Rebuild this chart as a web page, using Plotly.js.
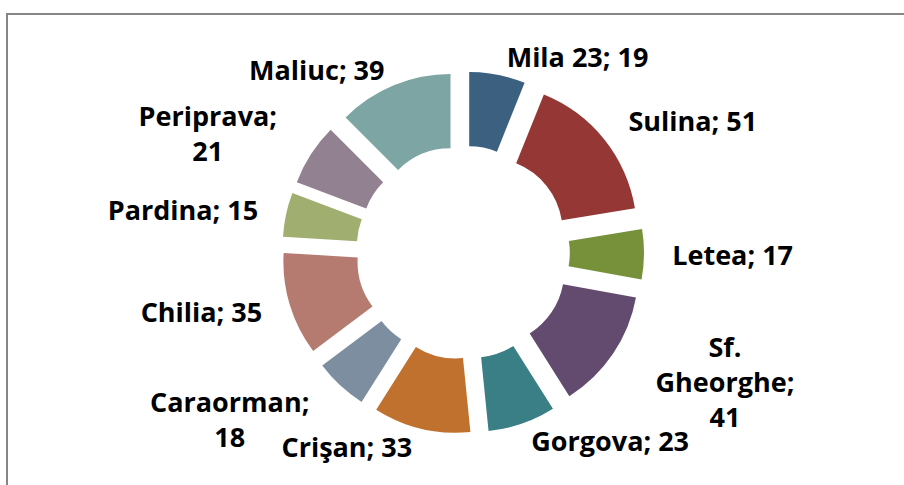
<!DOCTYPE html>
<html>
<head>
<meta charset="utf-8">
<script src="https://cdn.plot.ly/plotly-3.0.1.min.js"></script>
<style>html,body{margin:0;padding:0;background:#fff;}#chart{width:904px;height:485px;}</style>
</head>
<body>
<div id="chart"></div>
<script>
const categories = ["Mila 23", "Sulina", "Letea", "Sf. Gheorghe", "Gorgova", "Crişan", "Caraorman", "Chilia", "Pardina", "Periprava", "Maliuc"];
const values = [19, 51, 17, 41, 23, 33, 18, 35, 15, 21, 39];
const colors = ["#3c6080", "#953735", "#77903a", "#634b70", "#3a7f86", "#c0712d", "#7e8ea1", "#b67b70", "#a0af70", "#928190", "#7ca5a3"];
// label text layout (line breaks as in the original data labels)
const templates = ["%{label}; %{value}", "%{label}; %{value}", "%{label}; %{value}", "Sf.<br>Gheorghe;<br>%{value}", "%{label}; %{value}", "%{label}; %{value}", "%{label};<br>%{value}", "%{label}; %{value}", "%{label}; %{value}", "%{label};<br>%{value}", "%{label}; %{value}"];
// labels near the vertical axis sit close to the ring, side labels sit further out
const nearLabel = [true, false, false, false, true, true, false, false, false, false, true];

const font = {family: "'Open Sans', 'DejaVu Sans', sans-serif", size: 27, color: "#000000", weight: "bold"};
const center = {x: 463, y: 252.5};
const W = 904, H = 485;
function domainFor(outerR) {
  return {
    x: [(center.x - outerR) / W, (center.x + outerR) / W],
    y: [(H - center.y - outerR) / H, (H - center.y + outerR) / H]
  };
}
const pull = 0.22;

const ring = {
  type: "pie",
  labels: categories,
  values: values,
  hole: 0.5,
  pull: pull,
  sort: false,
  direction: "clockwise",
  rotation: 0,
  marker: {colors: colors, line: {width: 0}},
  textposition: "outside",
  texttemplate: templates.map((t, i) => nearLabel[i] ? t : ""),
  outsidetextfont: font,
  textfont: font,
  showlegend: false,
  domain: domainFor(181),
  hoverinfo: "none"
};
const sideLabels = {
  type: "pie",
  labels: categories,
  values: values,
  hole: 0.5,
  pull: pull,
  sort: false,
  direction: "clockwise",
  rotation: 0,
  marker: {colors: categories.map(() => "rgba(0,0,0,0)"), line: {width: 0}},
  textposition: "outside",
  texttemplate: templates.map((t, i) => nearLabel[i] ? "" : t),
  outsidetextfont: font,
  textfont: font,
  showlegend: false,
  domain: domainFor(200),
  hoverinfo: "none"
};

Plotly.newPlot("chart", [ring, sideLabels], {
  width: W, height: H,
  margin: {l: 0, r: 0, t: 0, b: 0},
  paper_bgcolor: "#ffffff",
  showlegend: false,
  shapes: [{type: "rect", xref: "paper", yref: "paper", x0: 7/904, x1: 1.05, y0: -0.05, y1: (485 - 14)/485, line: {color: "#868686", width: 2}, fillcolor: "rgba(0,0,0,0)"}]
}, {displayModeBar: false, staticPlot: true});
</script>
</body>
</html>
